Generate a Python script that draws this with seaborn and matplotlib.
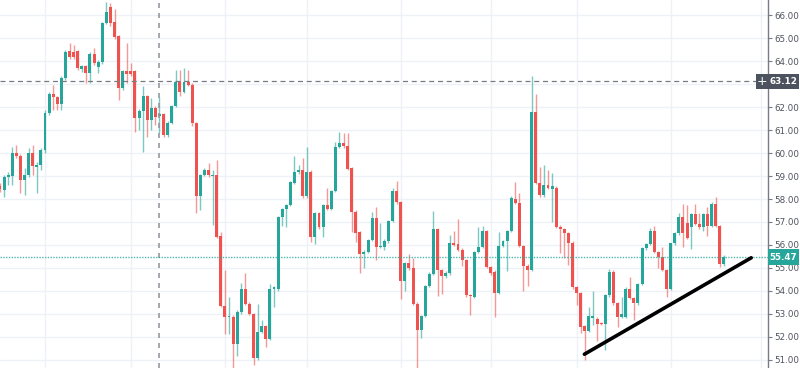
import numpy as np
import pandas as pd
import seaborn as sns
import matplotlib.pyplot as plt
from matplotlib.patches import Rectangle

# candle prices, oldest first
opens = [58.55, 58.40, 58.96, 59.00, 60.00, 59.87, 58.83, 59.04, 60.00, 59.40,
         59.47, 60.13, 61.74, 62.57, 62.45, 62.13, 63.26, 64.45, 64.40, 64.45,
         63.66, 63.80, 63.50, 64.30, 63.75, 63.97, 65.65, 66.37, 65.70, 65.10,
         62.83, 63.56, 63.56, 63.56, 61.52, 61.83, 62.48, 61.44, 61.96, 61.60,
         61.70, 60.79, 61.30, 62.05, 63.10, 62.67, 63.10, 62.97, 61.30, 58.13,
         59.04, 59.26, 59.00, 59.04, 56.39, 53.35, 52.85, 52.87, 51.70, 53.08,
         54.08, 53.43, 53.00, 51.07, 52.20, 52.46, 51.90, 54.08, 54.08, 57.20,
         57.56, 57.74, 58.70, 59.17, 59.26, 58.13, 59.17, 56.35, 57.40, 56.80,
         57.74, 57.56, 58.35, 60.26, 60.44, 60.30, 59.35, 57.44, 56.57, 55.60,
         55.70, 56.20, 57.17, 55.90, 55.90, 56.16, 57.04, 58.35, 57.87, 54.43,
         55.20, 54.98, 53.43, 52.30, 52.90, 54.20, 54.74, 56.70, 54.91, 54.65,
         54.78, 56.10, 56.05, 55.80, 55.35, 53.82, 53.74, 55.70, 55.90, 56.60,
         55.04, 54.83, 53.90, 55.96, 56.16, 56.60, 58.00, 57.83, 55.96, 55.10,
         54.90, 61.80, 58.70, 58.17, 58.60, 58.45, 58.50, 56.80, 56.68, 56.50,
         56.10, 54.17, 53.90, 52.46, 52.25, 52.80, 52.78, 52.60, 52.56, 53.80,
         54.83, 53.48, 52.87, 52.87, 54.10, 53.70, 53.48, 54.30, 55.87, 56.04,
         56.60, 55.70, 55.48, 54.91, 54.10, 56.07, 56.52, 57.20, 56.95, 56.80,
         57.35, 56.90, 56.78, 57.35, 56.83, 57.80, 56.83, 55.15]
highs = [58.70, 59.04, 59.18, 60.26, 60.35, 59.95, 59.35, 60.22, 60.35, 59.60,
         60.20, 61.88, 62.65, 62.97, 62.50, 63.36, 64.49, 64.79, 64.71, 64.50,
         63.85, 63.85, 64.40, 64.58, 64.05, 65.70, 66.58, 66.54, 66.27, 65.15,
         63.62, 64.79, 63.92, 63.60, 61.90, 62.92, 62.55, 62.40, 62.05, 62.44,
         61.75, 61.40, 62.10, 63.62, 63.62, 63.70, 63.62, 63.05, 61.35, 59.10,
         59.35, 59.57, 59.26, 59.70, 56.56, 54.91, 53.73, 52.95, 53.15, 54.34,
         54.78, 53.50, 53.05, 53.43, 52.73, 52.50, 54.30, 54.20, 57.25, 57.60,
         57.80, 58.80, 59.87, 59.48, 59.79, 60.26, 59.25, 57.45, 57.45, 57.80,
         58.48, 58.40, 60.48, 60.92, 60.87, 60.87, 59.40, 57.50, 56.60, 55.80,
         56.25, 57.43, 57.65, 56.96, 56.25, 57.10, 58.48, 58.78, 57.90, 55.25,
         55.60, 55.43, 53.50, 52.95, 54.25, 54.80, 57.48, 56.75, 54.95, 54.85,
         56.43, 56.61, 57.13, 55.85, 55.40, 53.86, 55.75, 56.78, 56.82, 56.65,
         55.10, 54.90, 56.56, 56.20, 56.65, 58.15, 58.74, 58.26, 56.00, 55.15,
         63.36, 62.57, 59.39, 59.48, 59.26, 59.13, 58.55, 56.85, 56.75, 56.55,
         56.15, 54.20, 53.95, 52.50, 53.30, 54.00, 52.85, 52.65, 53.85, 54.95,
         54.90, 53.50, 53.73, 54.15, 54.60, 53.75, 54.35, 55.90, 56.10, 56.74,
         56.82, 55.75, 55.91, 54.95, 56.10, 56.56, 57.39, 57.78, 57.75, 57.40,
         57.78, 57.40, 57.40, 57.65, 57.85, 58.09, 56.88, 55.55]
lows = [58.30, 58.09, 58.61, 58.61, 59.80, 58.26, 58.17, 58.95, 59.04, 58.26,
        59.26, 60.00, 61.66, 61.88, 61.88, 61.88, 63.20, 64.10, 64.10, 63.62,
        63.53, 63.05, 63.05, 63.85, 63.49, 63.90, 65.60, 65.55, 64.95, 62.31,
        62.75, 63.05, 63.35, 60.92, 61.00, 60.05, 60.70, 61.00, 61.22, 60.87,
        60.70, 60.70, 61.25, 62.00, 62.49, 62.60, 62.90, 61.20, 57.39, 57.52,
        59.00, 58.98, 56.87, 56.30, 53.30, 52.12, 52.12, 50.64, 51.16, 53.00,
        53.38, 52.95, 50.77, 51.00, 52.15, 51.55, 51.85, 53.30, 54.00, 56.82,
        56.78, 57.70, 58.65, 59.10, 58.05, 58.05, 56.13, 56.04, 56.70, 56.34,
        57.50, 57.50, 58.30, 60.20, 60.20, 59.25, 56.56, 56.13, 54.78, 55.00,
        55.65, 56.15, 55.34, 55.85, 55.80, 56.10, 57.00, 57.80, 53.64, 53.98,
        54.90, 53.38, 50.64, 51.95, 52.85, 54.15, 54.70, 53.77, 53.86, 54.55,
        54.70, 55.95, 55.75, 55.08, 53.73, 52.95, 53.70, 55.65, 55.85, 55.00,
        54.70, 52.86, 53.85, 55.90, 54.87, 56.55, 57.80, 55.90, 54.00, 54.21,
        54.85, 58.65, 58.10, 58.10, 58.45, 57.00, 56.75, 55.65, 55.43, 55.13,
        54.10, 53.38, 52.16, 50.99, 52.20, 52.51, 51.82, 52.50, 51.42, 53.75,
        53.40, 52.42, 52.80, 52.80, 53.65, 52.73, 53.40, 54.25, 55.80, 56.00,
        55.65, 55.00, 54.85, 53.73, 54.05, 56.00, 56.45, 55.91, 56.25, 55.82,
        56.85, 56.70, 56.61, 56.40, 56.78, 56.78, 55.04, 55.10]
closes = [58.43, 58.96, 59.05, 60.00, 59.87, 58.83, 59.04, 60.00, 59.45, 59.50,
          60.13, 61.74, 62.57, 62.45, 62.13, 63.26, 64.40, 64.20, 64.20, 63.70,
          63.80, 63.50, 64.30, 63.93, 63.97, 65.65, 66.15, 65.65, 65.05, 62.83,
          63.56, 63.45, 63.45, 61.52, 61.83, 62.48, 61.44, 61.96, 61.57, 61.70,
          60.79, 61.30, 62.05, 63.10, 62.67, 63.10, 62.97, 61.30, 58.13, 59.04,
          59.26, 59.04, 59.04, 56.35, 53.35, 52.87, 52.90, 51.70, 53.08, 54.08,
          53.43, 53.00, 51.07, 52.20, 52.46, 51.90, 54.08, 54.15, 57.20, 57.56,
          57.74, 58.74, 59.17, 59.26, 58.13, 59.17, 56.35, 57.40, 56.80, 57.74,
          57.56, 58.35, 60.26, 60.44, 60.30, 59.30, 57.44, 56.52, 55.60, 55.70,
          56.20, 57.17, 55.90, 55.96, 56.16, 57.04, 58.35, 57.87, 54.43, 55.20,
          54.98, 53.43, 52.30, 52.90, 54.20, 54.74, 56.70, 54.91, 54.65, 54.78,
          56.10, 56.00, 55.80, 55.35, 53.82, 53.78, 55.70, 55.90, 56.60, 55.04,
          54.78, 53.90, 55.96, 56.16, 56.60, 58.04, 57.83, 55.96, 55.10, 54.90,
          61.80, 58.70, 58.17, 58.60, 58.50, 58.55, 56.80, 56.68, 56.50, 56.08,
          54.17, 53.90, 52.44, 52.25, 52.90, 52.90, 52.56, 52.56, 53.80, 54.83,
          53.48, 52.87, 53.00, 54.10, 53.70, 53.48, 54.30, 55.87, 56.04, 56.60,
          55.70, 55.48, 54.91, 54.10, 56.07, 56.52, 57.20, 56.52, 56.30, 57.35,
          56.90, 56.78, 57.35, 56.83, 57.80, 56.83, 55.15, 55.47]

price_ticks = [51, 52, 53, 54, 55, 56, 57, 58, 59, 60, 61, 62, 64, 65, 66]
last_price = 55.47
cross_price = 63.12
cross_bar = 39
grid_bars = [11, 32, 55, 75, 98, 120, 141, 164, 186]
trend_bars = [142.9, 183.7]
trend_prices = [51.24, 55.44]

df = pd.DataFrame({"open": opens, "high": highs, "low": lows, "close": closes})
df["bar"] = np.arange(len(df))
green, red = "#26a69a", "#ef5350"
colors = np.where(df["close"] >= df["open"], green, red)

sns.set_theme(style="white")
plt.rcParams["font.family"] = ["DejaVu Sans"]

fig = plt.figure(figsize=(8, 3.68), dpi=100)
ax = fig.add_axes([0, 0, 768 / 800, 1])

ax.vlines(df["bar"], df["low"], df["high"], colors=colors, linewidth=1, alpha=0.6, zorder=3)
body = (df["close"] - df["open"]).abs().clip(lower=0.05)
ax.bar(df["bar"], body, bottom=df[["open", "close"]].min(axis=1), width=0.72,
       color=colors, linewidth=0, zorder=4)

ax.set_xlim(0, 187.8)
ax.set_ylim(50.64, 66.667)

# grid
ax.set_xticks(grid_bars)
ax.set_yticks(price_ticks)
ax.grid(True, color="#eef1f6", linewidth=1, zorder=0)
ax.axhline(63, color="#eef1f6", linewidth=1, zorder=0)

# crosshair and last price
ax.axhline(cross_price, xmax=756 / 768, color="#787b86", linestyle=(0, (4, 3)), linewidth=0.9, zorder=5)
ax.axvline(cross_bar, color="#9598a1", linestyle=(0, (3, 3)), linewidth=1.2, zorder=5)
ax.axhline(last_price, color=green, linestyle=(0, (1, 1)), linewidth=1, alpha=0.8, zorder=5)

sns.lineplot(x=trend_bars, y=trend_prices, color="black", linewidth=2.6, ax=ax, zorder=6)
ax.set_xlabel("")
ax.set_ylabel("")

# right price scale
ax.yaxis.tick_right()
ax.set_yticklabels([f"{v:.2f}" for v in price_ticks])
ax.tick_params(axis="y", direction="out", length=3, width=0.8, color="#787b86",
               labelsize=6.3, labelcolor="#50535e", pad=1.5, right=True, left=False)
ax.tick_params(axis="x", length=0, labelbottom=False)
for side in ["top", "left", "bottom"]:
    ax.spines[side].set_visible(False)
ax.spines["right"].set_color("#787b86")
ax.spines["right"].set_linewidth(1)

trans = ax.get_yaxis_transform()
box_h = 0.68
for price, fc in [(cross_price, "#4c525e"), (last_price, green)]:
    ax.add_patch(Rectangle((1.0, price - box_h / 2), 31 / 768, box_h, transform=trans,
                           facecolor=fc, edgecolor="none", clip_on=False, zorder=7))
    ax.text(1.0 + 15.5 / 768, price, f"{price:.2f}", transform=trans, ha="center", va="center",
            color="white", fontsize=6.3, fontweight="bold", clip_on=False, zorder=8)
ax.add_patch(Rectangle((756 / 768, cross_price - box_h / 2), 11.5 / 768, box_h, transform=trans,
                       facecolor="#4c525e", edgecolor="none", clip_on=False, zorder=7))
ax.text(761.8 / 768, cross_price, "+", transform=trans, ha="center", va="center",
        color="white", fontsize=9, clip_on=False, zorder=8)

fig.savefig("out.png", dpi=100)
